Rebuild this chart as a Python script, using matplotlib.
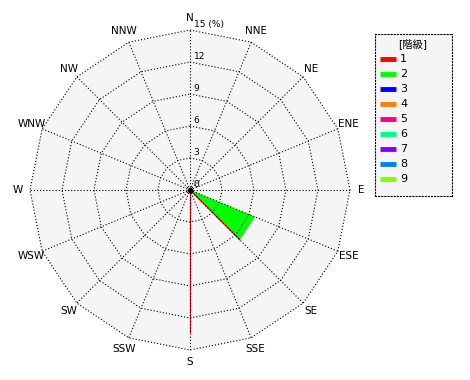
import numpy as np
import matplotlib
matplotlib.use("Agg")
import matplotlib.pyplot as plt
from matplotlib.patches import Polygon

plt.rcParams['font.family'] = ['DejaVu Sans', 'Noto Sans CJK JP']

# datos
directions = ['N', 'NNE', 'NE', 'ENE', 'E', 'ESE', 'SE', 'SSE',
              'S', 'SSW', 'SW', 'WSW', 'W', 'WNW', 'NW', 'NNW']
ring_ticks = [3, 6, 9, 12, 15]
classes = ['1', '2', '3', '4', '5', '6', '7', '8', '9']
class_colors = ['#ff0000', '#00ff00', '#0000ff', '#ff8000', '#ff0080',
                '#00ff80', '#8000ff', '#0080ff', '#80ff00']

# sector del階級2 (verde)
wedge_class = ['2']
wedge_from = ['ESE']
wedge_to = ['SE']
wedge_value = [6.6]

# lineas del階級1 (rojo)
line_dirs = ['SE', 'S']
line_values = [6.6, 13.3]

rmax = 15
bearing = {d: i * 22.5 for i, d in enumerate(directions)}


def xy(b, r):
    a = np.deg2rad(b)
    return r * np.sin(a), r * np.cos(a)


fig = plt.figure(figsize=(4.7, 3.8), dpi=100)
ax = fig.add_axes([0, 0, 380 / 470, 1])
lim = 190 / 160 * rmax
ax.set_xlim(-lim, lim)
ax.set_ylim(-lim, lim)
ax.set_aspect('equal')
ax.axis('off')

angles = [bearing[d] for d in directions]

# fondo
outer = [xy(b, rmax) for b in angles]
ax.add_patch(Polygon(outer, closed=True, facecolor='#f5f5f5', edgecolor='none', zorder=0))

# sectores
for c, f, t, v in zip(wedge_class, wedge_from, wedge_to, wedge_value):
    col = class_colors[classes.index(c)]
    pts = [(0, 0), xy(bearing[f], v), xy(bearing[t], v)]
    ax.add_patch(Polygon(pts, closed=True, facecolor=col, edgecolor='none', zorder=1))

for d, v in zip(line_dirs, line_values):
    x1, y1 = xy(bearing[d], v)
    ax.plot([0, x1], [0, y1], color=class_colors[0], lw=0.9, zorder=2)

# rejilla
dot = dict(color='black', lw=0.8, linestyle=(0, (1, 1.8)), zorder=3)
for r in ring_ticks:
    pts = [xy(b, r) for b in angles + [angles[0]]]
    ax.plot([p[0] for p in pts], [p[1] for p in pts], **dot)
for b in angles:
    x1, y1 = xy(b, rmax)
    ax.plot([0, x1], [0, y1], **dot)
ax.plot(0, 0, 'o', color='black', ms=3, zorder=4)

# etiquetas
for r in ring_ticks:
    lab = f"{r} (%)" if r == rmax else str(r)
    ax.text(0.35, r + 0.1, lab, fontsize=6.5, ha='left', va='bottom', zorder=5)
ax.text(0.35, 0.1, '0', fontsize=6.5, ha='left', va='bottom', zorder=5)

for d in directions:
    x, y = xy(bearing[d], 16.1)
    ax.text(x, y, d, fontsize=7.5, ha='center', va='center')

# leyenda
lax = fig.add_axes([375 / 470, 1 - 196 / 380, 77 / 470, 162 / 380])
lax.set_xlim(0, 77)
lax.set_ylim(162, 0)
lax.set_xticks([])
lax.set_yticks([])
lax.set_facecolor('#f5f5f5')
for s in lax.spines.values():
    s.set_linestyle((0, (1, 1.8)))
    s.set_linewidth(0.8)
lax.text(38, 10, '[階級]', fontsize=7.5, ha='center', va='center')
for i, (c, col) in enumerate(zip(classes, class_colors)):
    y = 25 + i * 15
    lax.plot([5, 21], [y, y], color=col, lw=3.5, solid_capstyle='butt')
    lax.text(25, y, c, fontsize=8, ha='left', va='center')

fig.savefig('out.png', dpi=100)
